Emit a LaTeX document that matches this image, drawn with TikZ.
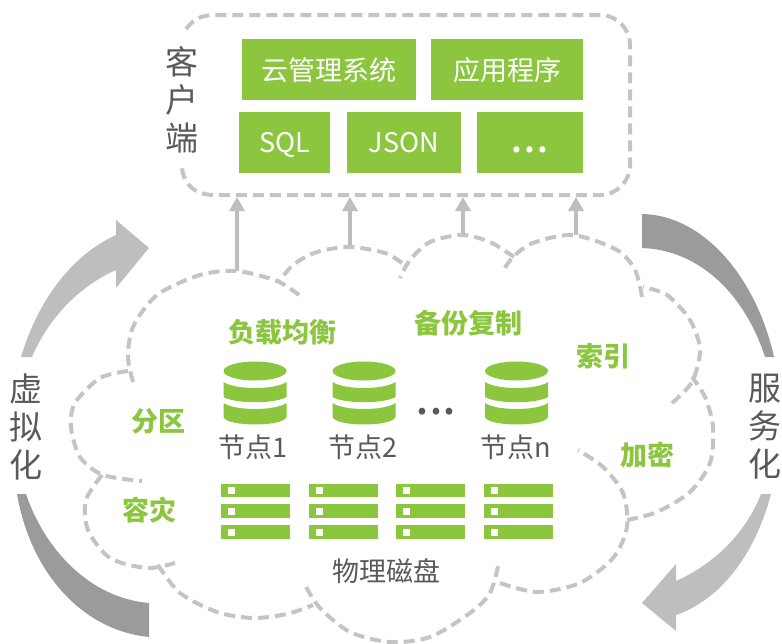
\documentclass[tikz,border=0pt]{standalone}
\usepackage{fontspec}
\setmainfont{Noto Sans CJK SC}
\usetikzlibrary{arrows.meta}
\tikzset{>=latex}
\definecolor{mygreen}{HTML}{8CC63F}
\definecolor{mygray}{HTML}{595959}
\definecolor{mylight}{HTML}{BEBEBE}
\definecolor{mydark}{HTML}{9B9B9B}
\definecolor{mydash}{HTML}{C4C4C4}
\tikzset{
  dashline/.style={draw=mydash, line width=4, dash pattern=on 11 off 6},
  appbox/.style={fill=mygreen, text=white, inner sep=0, text depth=0, font=\fontsize{27}{27}\selectfont},
  greenlabel/.style={text=mygreen, font=\fontsize{27}{27}\selectfont\bfseries},
  graylabel/.style={text=mygray, font=\fontsize{27}{27}\selectfont},
  sidelabel/.style={text=mygray, align=center, font=\fontsize{33}{38}\selectfont},
  drum/.pic={
    \fill[mygreen] (0,0) ellipse (31.5 and 9.5);
    \fill[mygreen] (-31.5,11) .. controls (-20,19) and (20,19) .. (31.5,11)
      -- (31.5,26) .. controls (20,33) and (-20,33) .. (-31.5,26) -- cycle;
    \fill[mygreen] (-31.5,32) .. controls (-20,40) and (20,40) .. (31.5,32)
      -- (31.5,46) .. controls (28,56) and (-28,56) .. (-31.5,46) -- cycle;
  }
}
\begin{document}
\begin{tikzpicture}[x=1pt,y=-1pt]
  \useasboundingbox (0,0) rectangle (782,643);

  % CLIENT
  \draw[dashline] (186,29) .. controls (193,20) and (200,15) .. (215,15) -- (600,15)
    arc (90:0:30 and -30) -- (630,165) arc (0:-90:30 and -30) -- (215,195)
    .. controls (195,195) and (184,185) .. (182,168);
  \node[sidelabel] (client) at (182,100) {客\\户\\端};
  \node[appbox, minimum width=174, minimum height=61] (cms) at (329,69.5) {云管理系统};
  \node[appbox, minimum width=152, minimum height=61] (app) at (507,69.5) {应用程序};
  \node[appbox, minimum width=91, minimum height=61] (sql) at (284.5,142.5) {SQL};
  \node[appbox, minimum width=114, minimum height=61] (json) at (404,142.5) {JSON};
  \node[appbox, minimum width=106, minimum height=61] (more) at (530,142.5) {};
  \node[text=white, anchor=base, inner sep=0, font=\fontsize{46}{46}\selectfont] (moredots) at (530,152) {...};

  % ARROWS UP
  \foreach \i/\x/\y in {1/237/271, 2/350/247, 3/463/235, 4/576/235} {
    \coordinate (bot\i) at (\x,\y);
    \coordinate (top\i) at (\x,197);
    \draw[-{Triangle[width=15,length=14]}, mylight, line width=4] (bot\i) -- (top\i);
  }

  % CLOUD
  \draw[dashline] plot[smooth] coordinates {(299,295) (277,281) (237,271) (200,275) (157,295) (133,327) (128,357) (133,382)};
  \draw[dashline] plot[smooth] coordinates {(128,371) (100,378) (75,403) (71,427) (80,457) (103,475) (142,481)};
  \draw[dashline] plot[smooth] coordinates {(102,475) (86,500) (88,530) (110,558) (147,568) (175,563)};
  \draw[dashline] plot[smooth] coordinates {(158,565) (180,593) (217,612) (253,618) (287,614) (313,605)};
  \draw[dashline] plot[smooth] coordinates {(306,587) (320,608) (350,632) (390,642) (430,637) (470,613) (490,593) (499,562)};
  \draw[dashline] plot[smooth] coordinates {(500,583) (537,592) (580,583) (613,558) (627,527) (623,493) (603,467) (578,450)};
  \draw[dashline] plot[smooth] coordinates {(627,520) (657,512) (690,492) (710,463) (713,427) (705,397) (692,377)};
  \draw[dashline] plot[smooth] coordinates {(672,403) (692,382) (700,350) (690,320) (667,295) (643,287)};
  \draw[dashline] plot[smooth] coordinates {(642,297) (635,270) (617,250) (573,235) (533,243) (513,257) (503,271)};
  \draw[dashline] plot[smooth] coordinates {(514,257) (490,242) (462,235) (430,242) (410,260) (400,278)};
  \draw[dashline] plot[smooth] coordinates {(402,263) (385,253) (350,247) (317,252) (293,265) (278,283)};

  % SIDE ARROWS
  \fill[mylight] (21,357) .. controls (38,300) and (72,255) .. (116,235) -- (116,220) -- (149,248)
    -- (116,288) -- (116,270) .. controls (82,285) and (50,315) .. (32,357) -- cycle;
  \fill[mydark] (17,494) .. controls (30,570) and (80,630) .. (149,637) -- (149,603)
    .. controls (90,598) and (45,550) .. (26,494) -- cycle;
  \fill[mydark] (642,214) .. controls (705,215) and (757,280) .. (774,357) -- (765,357)
    .. controls (745,295) and (700,250) .. (642,248) -- cycle;
  \fill[mylight] (771,494) .. controls (755,555) and (720,600) .. (676,615) -- (676,631) -- (642,603)
    -- (676,564) -- (676,581) .. controls (712,565) and (745,535) .. (761,494) -- cycle;
  \node[sidelabel] (virt) at (26,427) {虚\\拟\\化};
  \node[sidelabel] (serv) at (765,427) {服\\务\\化};

  % NODES
  \foreach \x in {255,364,516.5} \pic at (\x,371) {drum};
  \node[graylabel] (n1) at (253,447) {节点1};
  \node[graylabel] (n2) at (363,447) {节点2};
  \node[graylabel] (nn) at (516,447) {节点n};
  \node[text=mygray, anchor=base, inner sep=0, font=\fontsize{50}{50}\selectfont] (dots) at (436,414.5) {...};

  % DISKS
  \foreach \x in {221,309,396,484} {
    \foreach \y in {483.5,504,525} {
      \fill[mygreen] (\x,\y) rectangle ++(68.5,13.5);
      \fill[white] (\x+7,\y+3.5) rectangle ++(7,7);
    }
  }
  \node[graylabel] (disk) at (386,571) {物理磁盘};

  % LABELS
  \node[greenlabel] (lb) at (282,332) {负载均衡};
  \node[greenlabel] (bak) at (468,323) {备份复制};
  \node[greenlabel] (idx) at (603,356) {索引};
  \node[greenlabel] (enc) at (647,455) {加密};
  \node[greenlabel] (part) at (158,421) {分区};
  \node[greenlabel] (dr) at (149,510) {容灾};
\end{tikzpicture}
\end{document}
